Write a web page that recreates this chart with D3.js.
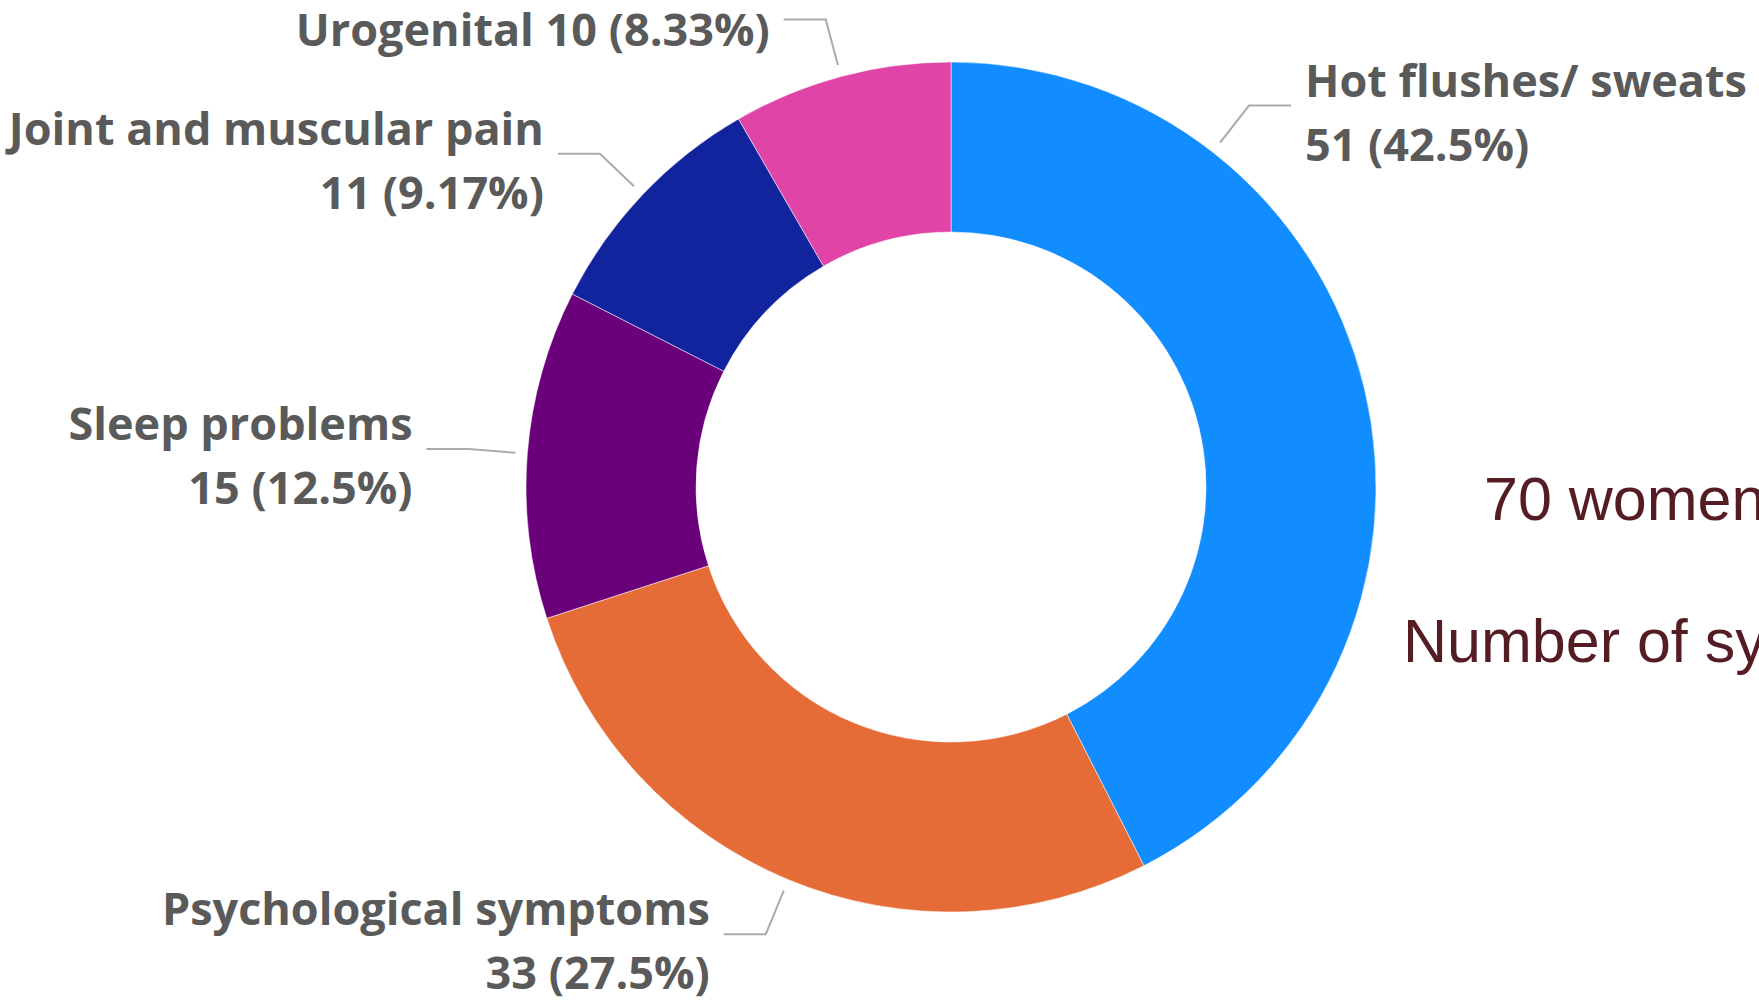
<!DOCTYPE html>
<html>
<head>
<meta charset="utf-8">
<script src="https://cdn.jsdelivr.net/npm/d3@7"></script>
<style>
html, body { margin: 0; padding: 0; background: #fff; overflow: hidden; }
svg { display: block; }
.lbl { font-family: "Open Sans", "Noto Sans", sans-serif; font-weight: 700; font-size: 45px; fill: #5a5a5a; }
.leader { fill: none; stroke: #ababab; stroke-width: 2; }
.note { font-family: "Liberation Sans", Arial, sans-serif; font-size: 61px; fill: #561c24; }
</style>
</head>
<body>
<svg id="chart" width="1759" height="1002"></svg>
<script>
// symptom categories, clockwise from 12 o'clock
var categories = ["Hot flushes/ sweats", "Psychological symptoms", "Sleep problems", "Joint and muscular pain", "Urogenital"];
var counts = [51, 33, 15, 11, 10];
var colors = ["#118dff", "#e66c37", "#6b007b", "#12239e", "#e044a7"];
var noteLines = ["70 women", "Number of symptoms"];

var width = 1759, height = 1002;
var cx = 951, cy = 487, outerR = 425, innerR = 255;

var svg = d3.select("#chart");
var g = svg.append("g").attr("transform", "translate(" + cx + "," + cy + ")");

var data = categories.map(function(c, i) { return {name: c, value: counts[i], color: colors[i]}; });
var total = d3.sum(counts);
var pct = d3.format(".3p");

var pie = d3.pie().sort(null).value(function(d) { return d.value; });
var arc = d3.arc().innerRadius(innerR).outerRadius(outerR);
var arcs = pie(data);

g.selectAll("path.slice")
    .data(arcs)
    .enter().append("path")
    .attr("class", "slice")
    .attr("d", arc)
    .attr("fill", function(d) { return d.data.color; })
    .attr("stroke", "#fff")
    .attr("stroke-opacity", 0.5)
    .attr("stroke-width", 1);

// label layout: the big slice's label is pulled up towards the top, like power bi does
var leaderAngle = {"Hot flushes/ sweats": 38};
var oneLine = {"Urogenital": true};

arcs.forEach(function(d) {
    var mid = (d.startAngle + d.endAngle) / 2;
    if (leaderAngle[d.data.name] != null) mid = leaderAngle[d.data.name] * Math.PI / 180;
    var s = Math.sin(mid), c = -Math.cos(mid);
    var p0 = [s * (outerR + 12), c * (outerR + 12)];
    var p1 = [s * (outerR + 59), c * (outerR + 59)];
    var right = s > 0;
    var p2 = [p1[0] + (right ? 42 : -42), p1[1]];

    g.append("path")
        .attr("class", "leader")
        .attr("d", d3.line()([p0, p1, p2]));

    var tx = p2[0] + (right ? 14 : -14);
    var t = g.append("text")
        .attr("class", "lbl")
        .attr("text-anchor", right ? "start" : "end");
    var share = pct(d.data.value / total);
    if (oneLine[d.data.name]) {
        t.append("tspan").attr("x", tx).attr("y", p1[1] + 26)
            .text(d.data.name + " " + d.data.value + " (" + share + ")");
    } else {
        t.append("tspan").attr("x", tx).attr("y", p1[1] - 9).text(d.data.name);
        t.append("tspan").attr("x", tx).attr("y", p1[1] + 55).text(d.data.value + " (" + share + ")");
    }
});

svg.append("text").attr("class", "note").attr("x", 1484).attr("y", 520).text(noteLines[0]);
svg.append("text").attr("class", "note").attr("x", 1403).attr("y", 662).text(noteLines[1]);
</script>
</body>
</html>
